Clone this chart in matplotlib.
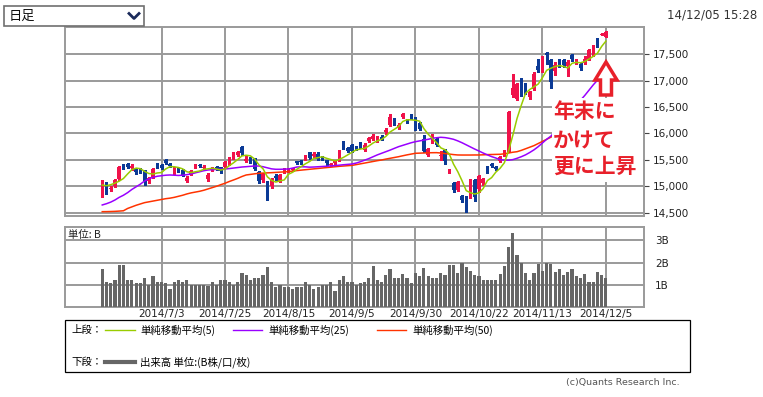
import numpy as np
import matplotlib.pyplot as plt
from matplotlib.patches import Rectangle, Polygon
from matplotlib.lines import Line2D

# --- 日足データ (2014/6/13 - 2014/12/5) ---
opens = [14840, 15070, 14940, 15010, 15130, 15400, 15420, 15350, 15320, 15330,
         15290, 15100, 15170, 15420, 15400, 15490, 15430, 15250, 15320, 15310,
         15100, 15240, 15360, 15410, 15340, 15140, 15300, 15370, 15360, 15360,
         15420, 15540, 15600, 15750, 15480, 15530, 15520, 15270, 15120, 15080,
         15000, 15200, 15100, 15280, 15290, 15300, 15470, 15480, 15510, 15640,
         15570, 15620, 15560, 15490, 15400, 15440, 15500, 15830, 15720, 15780,
         15730, 15810, 15680, 15850, 15890, 15880, 15940, 16020, 16170, 16290,
         16100, 16320, 16250, 16350, 16280, 16200, 15890, 15600, 15840, 15900,
         15580, 15690, 15280, 15060, 14930, 14820, 14800, 14800, 15120, 14950,
         15060, 15370, 15430, 15370, 15480, 15590, 15650, 16720, 16660, 17020,
         16860, 16690, 16840, 17270, 17190, 17530, 17400, 17180, 17400, 17400,
         17280, 17480, 17340, 17310, 17340, 17420, 17480, 17770, 17870, 17830]
highs = [15120, 15080, 15010, 15130, 15390, 15430, 15440, 15420, 15350, 15340,
         15310, 15170, 15340, 15440, 15420, 15510, 15440, 15370, 15340, 15330,
         15200, 15310, 15420, 15430, 15400, 15250, 15370, 15390, 15370, 15470,
         15560, 15640, 15670, 15760, 15570, 15550, 15540, 15290, 15260, 15100,
         15160, 15230, 15230, 15340, 15340, 15350, 15480, 15500, 15600, 15650,
         15640, 15640, 15580, 15500, 15450, 15500, 15680, 15850, 15740, 15800,
         15760, 15830, 15820, 15940, 15990, 15950, 15970, 16110, 16360, 16300,
         16200, 16390, 16270, 16360, 16320, 16210, 15980, 15720, 15990, 15920,
         15660, 15700, 15330, 15080, 15100, 14840, 14820, 15130, 15140, 15210,
         15150, 15380, 15450, 15390, 15580, 15680, 16430, 17120, 16950, 17060,
         16960, 16800, 17160, 17420, 17460, 17550, 17420, 17360, 17420, 17420,
         17400, 17500, 17420, 17330, 17470, 17600, 17680, 17800, 17910, 17935]
lows = [14800, 14860, 14910, 14990, 15110, 15330, 15350, 15300, 15240, 15260,
        15030, 15060, 15150, 15350, 15330, 15420, 15360, 15230, 15270, 15200,
        15080, 15220, 15340, 15360, 15320, 15100, 15290, 15310, 15250, 15340,
        15400, 15520, 15580, 15600, 15460, 15440, 15300, 15060, 15080, 14740,
        14960, 15120, 15080, 15260, 15270, 15280, 15420, 15420, 15490, 15520,
        15540, 15500, 15500, 15410, 15380, 15420, 15480, 15710, 15650, 15650,
        15680, 15730, 15660, 15830, 15870, 15830, 15870, 15990, 16150, 16170,
        16080, 16300, 16200, 16280, 16070, 16060, 15640, 15570, 15820, 15760,
        15500, 15420, 15250, 14900, 14910, 14700, 14520, 14780, 14720, 14900,
        15020, 15250, 15370, 15300, 15460, 15570, 15640, 16700, 16640, 16710,
        16740, 16650, 16820, 17170, 17160, 17310, 16860, 17100, 17260, 17260,
        17090, 17380, 17320, 17200, 17320, 17400, 17460, 17640, 17860, 17820]
closes = [15098, 14933, 14976, 15116, 15361, 15349, 15369, 15376, 15267, 15308,
          15095, 15162, 15326, 15370, 15348, 15437, 15379, 15315, 15303, 15216,
          15164, 15297, 15395, 15379, 15370, 15216, 15343, 15329, 15284, 15458,
          15529, 15620, 15646, 15621, 15523, 15474, 15320, 15100, 15232, 14778,
          15131, 15161, 15214, 15314, 15318, 15323, 15450, 15454, 15586, 15539,
          15613, 15521, 15535, 15440, 15425, 15477, 15669, 15728, 15676, 15669,
          15705, 15749, 15789, 15909, 15948, 15912, 15889, 16068, 16321, 16206,
          16167, 16374, 16230, 16311, 16174, 16082, 15662, 15709, 15891, 15784,
          15596, 15479, 15301, 14937, 15074, 14738, 14533, 15111, 14804, 15196,
          15139, 15292, 15389, 15330, 15554, 15658, 16414, 16862, 16937, 16792,
          16790, 16781, 17124, 17197, 17393, 17491, 16974, 17290, 17289, 17301,
          17358, 17408, 17384, 17249, 17420, 17590, 17663, 17690, 17887, 17920]

# 単純移動平均 (5 / 25 / 50)
ma5 = [15024, 15010, 15030, 15060, 15097, 15147, 15234, 15314, 15344, 15334,
       15283, 15242, 15232, 15252, 15260, 15329, 15372, 15370, 15356, 15330,
       15275, 15259, 15275, 15290, 15321, 15331, 15341, 15327, 15308, 15326,
       15389, 15444, 15507, 15575, 15588, 15577, 15517, 15408, 15330, 15181,
       15112, 15080, 15103, 15120, 15228, 15266, 15324, 15372, 15426, 15470,
       15528, 15543, 15559, 15530, 15507, 15480, 15509, 15548, 15595, 15644,
       15689, 15705, 15718, 15764, 15820, 15861, 15889, 15945, 16028, 16079,
       16130, 16227, 16260, 16258, 16251, 16234, 16092, 15988, 15904, 15826,
       15728, 15692, 15610, 15419, 15277, 15106, 14917, 14879, 14852, 14876,
       14957, 15108, 15164, 15269, 15341, 15445, 15669, 15964, 16285, 16533,
       16759, 16832, 16885, 16937, 17057, 17197, 17236, 17269, 17287, 17269,
       17242, 17329, 17348, 17340, 17364, 17410, 17461, 17522, 17650, 17750]
ma25 = [14646, 14670, 14700, 14740, 14790, 14830, 14880, 14940, 14990, 15040,
        15100, 15140, 15170, 15190, 15200, 15210, 15214, 15210, 15205, 15210,
        15220, 15233, 15255, 15275, 15295, 15309, 15315, 15320, 15325, 15328,
        15335, 15345, 15355, 15365, 15371, 15378, 15384, 15384, 15370, 15350,
        15330, 15322, 15322, 15325, 15328, 15345, 15365, 15370, 15368, 15362,
        15365, 15370, 15375, 15380, 15385, 15392, 15400, 15408, 15415, 15422,
        15440, 15465, 15495, 15525, 15560, 15595, 15625, 15655, 15685, 15718,
        15750, 15775, 15800, 15825, 15845, 15860, 15875, 15890, 15909, 15920,
        15928, 15922, 15908, 15890, 15860, 15825, 15785, 15745, 15705, 15668,
        15630, 15595, 15562, 15535, 15505, 15495, 15495, 15505, 15530, 15560,
        15595, 15640, 15690, 15750, 15820, 15890, 15950, 16040, 16130, 16230,
        16330, 16430, 16530, 16630, 16720, 16820, 16920, 17010, 17110, 17200]
ma50 = [14519, 14520, 14522, 14525, 14530, 14536, 14580, 14610, 14640, 14665,
        14690, 14705, 14720, 14735, 14750, 14765, 14775, 14790, 14810, 14830,
        14855, 14875, 14890, 14905, 14925, 14950, 14975, 15000, 15030, 15057,
        15090, 15119, 15150, 15185, 15214, 15225, 15236, 15246, 15250, 15254,
        15258, 15263, 15268, 15273, 15278, 15288, 15298, 15306, 15314, 15322,
        15330, 15338, 15346, 15354, 15362, 15370, 15378, 15384, 15390, 15396,
        15410, 15425, 15440, 15455, 15470, 15485, 15498, 15515, 15530, 15545,
        15560, 15578, 15595, 15610, 15625, 15628, 15631, 15634, 15636, 15637,
        15630, 15620, 15610, 15600, 15593, 15592, 15592, 15592, 15593, 15593,
        15596, 15600, 15602, 15604, 15606, 15615, 15630, 15645, 15655, 15680,
        15710, 15740, 15770, 15810, 15850, 15890, 15930, 15970, 16010, 16050,
        16090, 16130, 16170, 16210, 16250, 16290, 16330, 16370, 16410, 16450]

# 出来高 (B)
volume = [1.69, 1.14, 1.07, 1.19, 1.87, 1.87, 1.19, 1.23, 1.07, 1.07,
          1.28, 1.00, 1.37, 1.14, 1.14, 1.07, 0.82, 1.14, 1.19, 1.11,
          1.23, 0.99, 0.99, 0.99, 1.00, 0.93, 1.14, 1.00, 1.19, 1.19,
          1.14, 0.97, 1.14, 1.51, 1.42, 1.23, 1.32, 1.32, 1.42, 1.78,
          1.14, 0.87, 0.96, 0.91, 0.87, 0.78, 0.91, 0.91, 1.14, 1.00,
          0.82, 0.87, 1.00, 1.00, 1.10, 0.73, 1.23, 1.37, 1.10, 1.10,
          0.97, 1.07, 1.10, 1.28, 1.83, 1.19, 1.14, 1.42, 1.69, 1.28,
          1.32, 1.46, 1.28, 1.05, 1.51, 1.37, 1.74, 1.37, 1.28, 1.32,
          1.51, 1.42, 1.87, 1.87, 1.51, 1.98, 1.78, 1.60, 1.42, 1.37,
          1.19, 1.19, 1.19, 1.19, 1.46, 1.83, 2.69, 3.33, 2.33, 1.96,
          1.51, 1.23, 1.51, 1.92, 1.60, 1.96, 1.92, 1.55, 1.69, 1.42,
          1.55, 1.69, 1.37, 1.28, 1.46, 1.14, 1.14, 1.55, 1.42, 1.28]

date_labels = ['2014/7/3', '2014/7/25', '2014/8/15', '2014/9/5',
               '2014/9/30', '2014/10/22', '2014/11/13', '2014/12/5']
label_pos = [14, 29, 44, 59, 74, 89, 104, 119]
price_ticks = [14500, 15000, 15500, 16000, 16500, 17000, 17500]
vol_ticks = [1, 2, 3]
vol_labels = ['1B', '2B', '3B']

W, H = 763, 397
JP = ['Noto Sans CJK JP', 'DejaVu Sans']
plt.rcParams['font.family'] = ['DejaVu Sans', 'Noto Sans CJK JP']


def fx(x):
    return x / W


def fy(y):
    return 1 - y / H


fig = plt.figure(figsize=(W / 100, H / 100), dpi=100)
ax = fig.add_axes([fx(65), fy(216), (644 - 65) / W, (216 - 26.7) / H])
axv = fig.add_axes([fx(65), fy(306.7), (644 - 65) / W, (306.7 - 226.7) / H])

grid_c = '#9a9a9a'
idx = np.arange(len(closes))
for a in (ax, axv):
    a.set_xlim(-8.8, 128)
    a.set_xticks(label_pos)
    a.grid(True, color=grid_c, lw=1.4)
    a.set_axisbelow(True)
    for s in a.spines.values():
        s.set_color(grid_c)
        s.set_linewidth(1.4)
    a.yaxis.tick_right()
    a.tick_params(axis='x', length=0)

# 上段: ローソク足 + 移動平均
ax.set_ylim(14437, 18023)
ax.set_yticks(price_ticks, [f'{v:,}' for v in price_ticks])
ax.set_xticklabels([])
ax.tick_params(axis='y', length=3.5, width=0.8, color='#444', pad=3,
               labelsize=7.5, labelcolor='#222')

up_c, dn_c = '#f0124a', '#0b3a96'
for i in idx:
    o, h, l, c = opens[i], highs[i], lows[i], closes[i]
    col = up_c if c >= o else dn_c
    ax.vlines(i, l, h, color=col, lw=1.0, zorder=3, antialiased=False)
    body = max(abs(c - o), 25)
    mid = (o + c) / 2
    ax.bar(i, body, bottom=mid - body / 2, width=0.8, color=col, lw=0,
           zorder=3, antialiased=False)

ax.plot(idx, ma50, color='#ff3300', lw=1.1, zorder=4)
ax.plot(idx, ma25, color='#9900ff', lw=1.1, zorder=4)
ax.plot(idx, ma5, color='#99cc00', lw=1.1, zorder=4)

# 下段: 出来高
axv.bar(idx, volume, width=0.75, color='#666666', zorder=3, antialiased=False)
axv.set_ylim(0, 3.62)
axv.set_yticks(vol_ticks, vol_labels)
axv.tick_params(axis='y', length=0, pad=8, labelsize=7.5, labelcolor='#222')
axv.set_xticklabels(date_labels)
axv.tick_params(axis='x', pad=1.5, labelsize=7.5, labelcolor='#222')
fig.text(fx(68), fy(235), '単位: B', fontsize=7.5, family=JP, va='center', color='#222')

# 注記
fig.add_artist(Rectangle((fx(552), fy(182)), (643 - 552) / W, (182 - 98) / H,
                         transform=fig.transFigure, facecolor='white',
                         edgecolor='none', zorder=5))
for txt, yy in [('年末に', 112), ('かけて', 140.5), ('更に上昇', 166.5)]:
    fig.text(fx(553), fy(yy), txt, fontsize=15, fontweight='bold', family=JP,
             color='#e8202a', va='center', ha='left', zorder=6)
arrow = [(606, 62), (617, 80), (611.5, 80), (611.5, 95), (600.5, 95),
         (600.5, 80), (595, 80)]
fig.add_artist(Polygon([(fx(x), fy(y)) for x, y in arrow], closed=True,
                       transform=fig.transFigure, facecolor='white',
                       edgecolor='#e8202a', lw=2.5, joinstyle='miter', zorder=6))

# 凡例
fig.add_artist(Rectangle((fx(65), fy(372)), (690 - 65) / W, (372 - 320) / H,
                         transform=fig.transFigure, fill=False,
                         edgecolor='black', lw=0.9))
row1, row2 = 330, 362
fig.text(fx(71), fy(row1), '上段：', fontsize=7.5, family=JP, va='center')
legend_items = [(105, 135, 140, '#99cc00', '単純移動平均(5)'),
                (233, 262, 268, '#9900ff', '単純移動平均(25)'),
                (377, 406, 412, '#ff3300', '単純移動平均(50)')]
for x0, x1, xt, col, lab in legend_items:
    fig.add_artist(Line2D([fx(x0), fx(x1)], [fy(row1), fy(row1)],
                          transform=fig.transFigure, color=col, lw=1))
    fig.text(fx(xt), fy(row1), lab, fontsize=7.5, family=JP, va='center')
fig.text(fx(71), fy(row2), '下段：', fontsize=7.5, family=JP, va='center')
fig.add_artist(Line2D([fx(105), fx(135)], [fy(row2), fy(row2)],
                      transform=fig.transFigure, color='#666666', lw=3))
fig.text(fx(140), fy(row2), '出来高 単位:(B株/口/枚)', fontsize=7.5, family=JP, va='center')

fig.text(fx(680), fy(383), '(c)Quants Research Inc.', fontsize=6.8,
         color='#555555', ha='right', va='center')

# 上部: 足種選択 + 日時
fig.add_artist(Rectangle((fx(3.5), fy(25.5)), 140 / W, 19.5 / H,
                         transform=fig.transFigure, fill=False,
                         edgecolor='#707070', lw=1.2))
fig.text(fx(9), fy(16), '日足', fontsize=9.5, family=JP, va='center', color='#111')
fig.add_artist(Line2D([fx(129), fx(134), fx(139)], [fy(13.5), fy(18.5), fy(13.5)],
                      transform=fig.transFigure, color='#1a2a5a', lw=2))
fig.text(fx(757), fy(15), '14/12/05 15:28', fontsize=8.5, color='#333333',
         ha='right', va='center')

fig.savefig('out.png', dpi=100)
